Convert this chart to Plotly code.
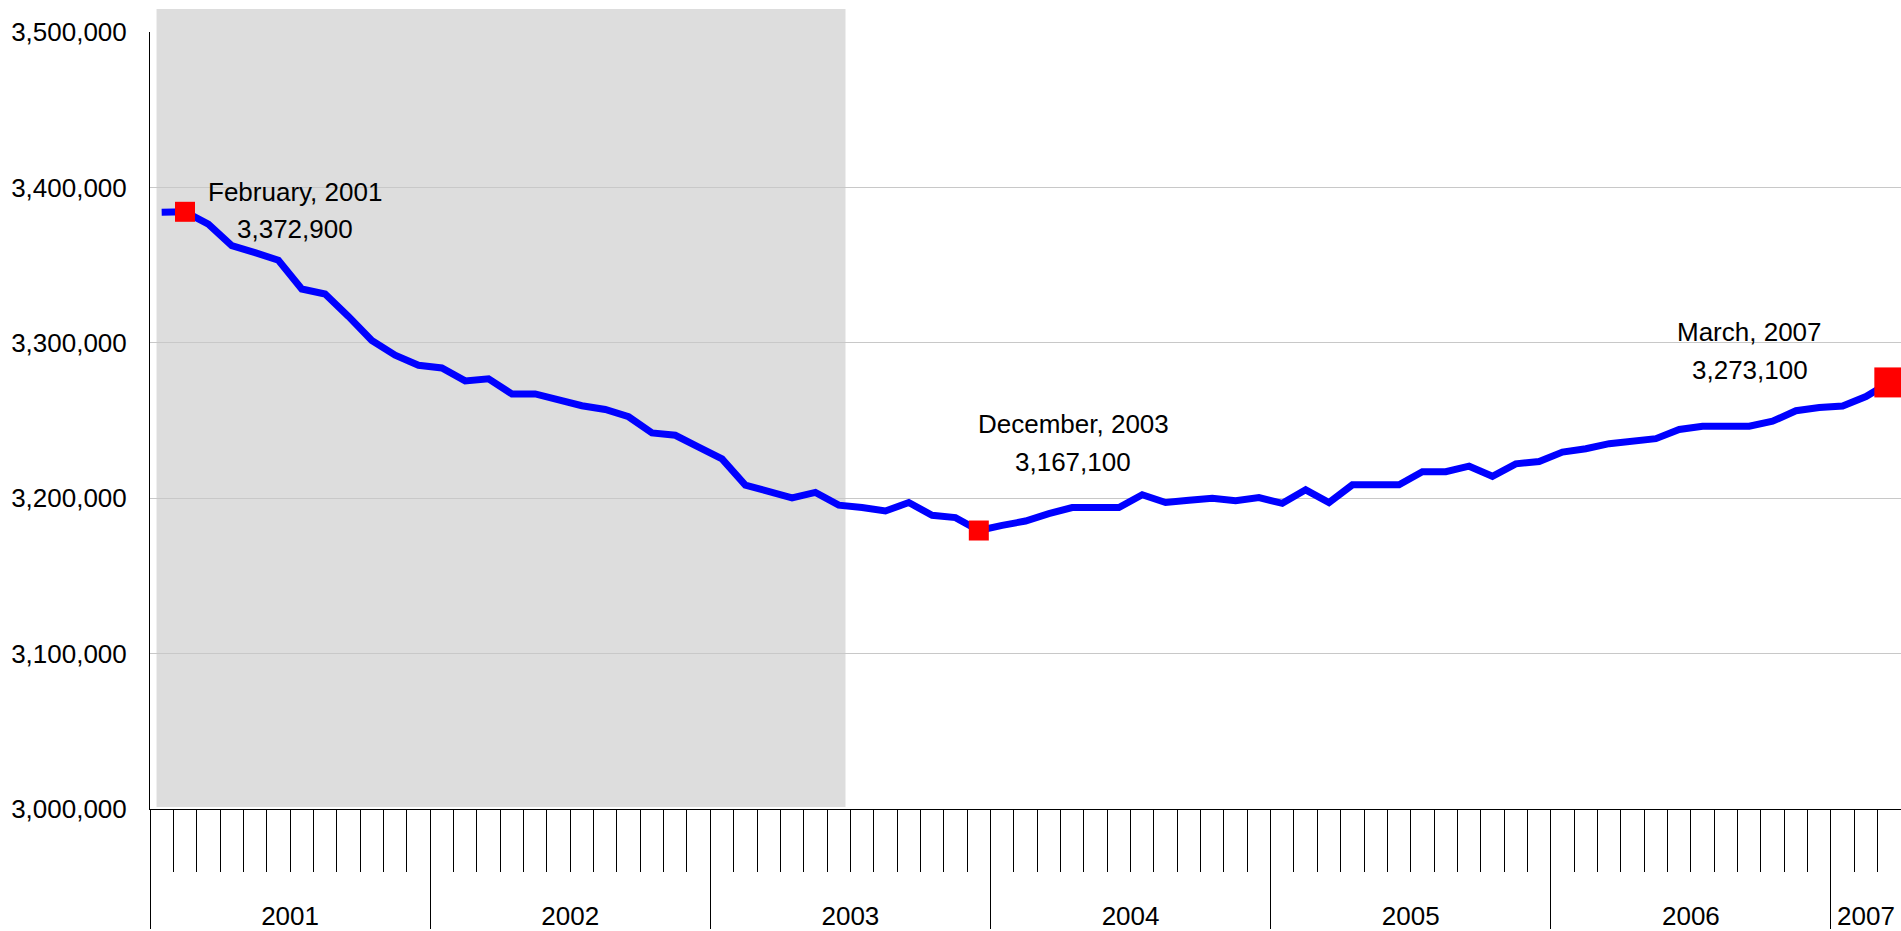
import plotly.graph_objects as go

# ---------------- data ----------------
years = ["2001", "2002", "2003", "2004", "2005", "2006", "2007"]
months_per_year = [12, 12, 12, 12, 12, 12, 3]

employment = [
    3384000, 3384300, 3376400, 3362600, 3358000, 3353100, 3334600, 3331400, 3317000, 3301500, 3292000, 3285500,
    3283800, 3275500, 3276800, 3267100, 3267100, 3262800, 3259500, 3257100, 3252400, 3242000, 3240500, 3232900,
    3225300, 3208400, 3204100, 3200200, 3203700, 3195500, 3194000, 3191800, 3197200, 3189000, 3187500, 3179200,
    3182500, 3185300, 3190100, 3194000, 3194000, 3194000, 3202200, 3197200, 3198700, 3200000, 3198300, 3200400,
    3196700, 3205400, 3197200, 3208600, 3208600, 3208600, 3217100, 3217100, 3220600, 3214100, 3222100, 3223600,
    3229700, 3231800, 3235100, 3236600, 3238300, 3244200, 3246300, 3246300, 3246300, 3249500, 3256300, 3258300,
    3259300, 3265400, 3274500,
]

highlight_idx = [1, 35, 74]
highlight_title = ["February, 2001", "December, 2003", "March, 2007"]
highlight_label = ["3,372,900", "3,167,100", "3,273,100"]

y_ticks = [3000000, 3100000, 3200000, 3300000, 3400000, 3500000]

# ---------------- layout constants ----------------
W, H = 1901, 931
ML, MR, MT, MB = 150, 0, 32, 119
PW, PH = W - ML - MR, H - MT - MB
FONT = "Liberation Sans, Arial, sans-serif"

n = len(employment)
x = list(range(n))

def px_to_paper_x(px):
    return (px - ML) / PW

def px_to_paper_y(py):
    return (H - MB - py) / PH

# year boundaries / centers from months_per_year
bounds = [-0.5]
for m in months_per_year:
    bounds.append(bounds[-1] + m)
year_centers = [(bounds[i] + bounds[i + 1]) / 2 for i in range(len(years))]
month_bounds = [i + 0.5 for i in range(n - 1)]

fig = go.Figure()

# main line
fig.add_trace(go.Scatter(
    x=x, y=employment, mode="lines",
    line=dict(color="#0000FF", width=7),
    hoverinfo="skip", showlegend=False,
))

# highlighted points
fig.add_trace(go.Scatter(
    x=highlight_idx, y=[employment[i] for i in highlight_idx], mode="markers",
    marker=dict(symbol="square", color="#FF0000", size=[20, 20, 30], opacity=1, line=dict(width=0)),
    hoverinfo="skip", showlegend=False,
))

# invisible helper traces for overlay axes
fig.add_trace(go.Scatter(x=year_centers, y=[y_ticks[0]] * len(years), xaxis="x2",
                         mode="markers", marker=dict(opacity=0), hoverinfo="skip", showlegend=False))
fig.add_trace(go.Scatter(x=year_centers, y=[y_ticks[0]] * len(years), xaxis="x3",
                         mode="markers", marker=dict(opacity=0), hoverinfo="skip", showlegend=False))

# shaded period
fig.add_shape(type="rect", xref="x", yref="paper",
              x0=-0.22, x1=29.29, y0=px_to_paper_y(810), y1=px_to_paper_y(9),
              fillcolor="#DDDDDD", line=dict(width=0), layer="below")

# annotations (two lines each)
ann_pos = [
    (295, 201.7, 239.0),
    (1073, 435.2, 473.0),
    (1749.5, 342.7, 381.0),
]
annotations = []
for (cx, b1, b2), t1, t2 in zip(ann_pos, highlight_title, highlight_label):
    for txt, base in ((t1, b1), (t2, b2)):
        annotations.append(dict(
            text=txt, xref="paper", yref="paper",
            x=px_to_paper_x(cx), y=px_to_paper_y(base - 9.3),
            xanchor="center", yanchor="middle", showarrow=False,
            font=dict(family=FONT, size=26, color="#000000"),
        ))

axis_common = dict(range=[-0.5, n - 0.5], showgrid=False, zeroline=False, fixedrange=True)

fig.update_layout(
    width=W, height=H, autosize=False,
    margin=dict(l=ML, r=MR, t=MT, b=MB, pad=0),
    paper_bgcolor="white", plot_bgcolor="rgba(0,0,0,0)",
    font=dict(family=FONT, size=26, color="#000000"),
    showlegend=False,
    xaxis=dict(
        **axis_common,
        tickmode="array", tickvals=month_bounds, showticklabels=False,
        ticks="outside", ticklen=62, tickwidth=1, tickcolor="#000000",
        showline=True, linecolor="#000000", linewidth=1,
    ),
    xaxis2=dict(
        **axis_common, overlaying="x", anchor="y", side="bottom",
        tickmode="array", tickvals=bounds[:-1], showticklabels=False,
        ticks="outside", ticklen=119, tickwidth=1, tickcolor="#000000",
        showline=False,
    ),
    xaxis3=dict(
        **axis_common, overlaying="x", anchor="y", side="bottom",
        tickmode="array", tickvals=year_centers, ticktext=years,
        ticks="outside", ticklen=84, tickcolor="rgba(0,0,0,0)",
        tickfont=dict(family=FONT, size=26, color="#000000"),
        showline=False,
    ),
    yaxis=dict(
        range=[y_ticks[0], y_ticks[-1]], tickmode="array", tickvals=y_ticks,
        tickformat=",", tickfont=dict(family=FONT, size=26, color="#000000"),
        ticks="outside", ticklen=17, tickcolor="rgba(0,0,0,0)",
        showgrid=True, gridcolor="#C8C8C8", gridwidth=1,
        showline=True, linecolor="#000000", linewidth=1,
        zeroline=False, fixedrange=True,
    ),
    annotations=annotations,
)

fig.write_html("out.html", include_plotlyjs=True, config={"displayModeBar": False},
               post_script="document.body.style.margin='0';document.body.style.overflow='hidden';")
